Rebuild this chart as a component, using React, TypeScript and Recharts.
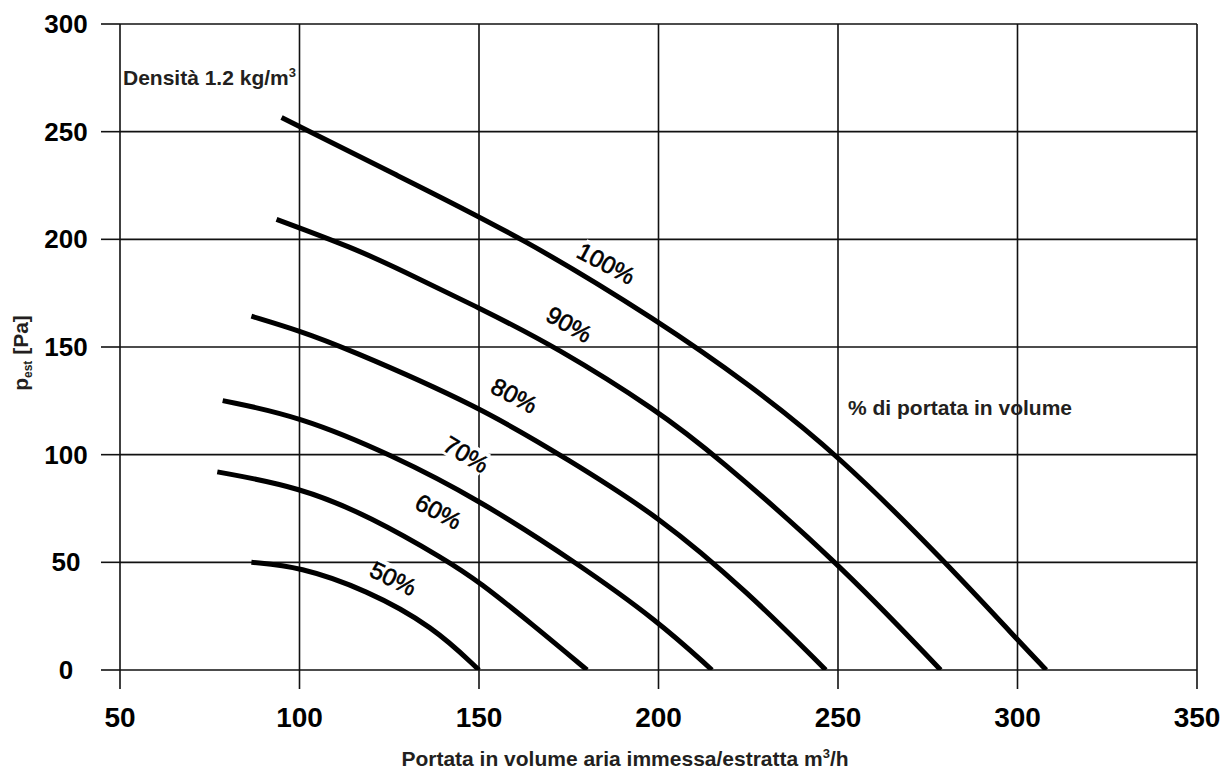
import { LineChart, Line, XAxis, YAxis, CartesianGrid, ReferenceDot } from 'recharts'

// % di portata curves: flow (m³/h) and pressure (Pa)
const flow100 = [95, 125, 163, 200, 225, 250, 280, 300, 308]
const press100 = [256.6, 231.5, 200, 162, 133, 100, 50, 14, 0]

const flow90 = [93.6, 114.9, 127.9, 150, 171.5, 200, 215.6, 250, 278.6]
const press90 = [209.3, 196.1, 186, 168.2, 150, 120.1, 100, 50, 0]

const flow80 = [86.6, 100, 112.2, 150, 175, 200, 225, 246.6]
const press80 = [164.3, 157.5, 150, 122.5, 97.5, 71.5, 36, 0]

const flow70 = [78.6, 100, 125.6, 150, 177, 200, 214.9]
const press70 = [125.1, 117.8, 100, 79, 50, 22.5, 0]

const flow60 = [77.1, 100, 120, 140.9, 150, 165, 180.1]
const press60 = [92, 85, 71, 51, 41, 21, 0]

const flow50 = [86.6, 100, 118.6, 137.2, 150]
const press50 = [50, 48, 37.2, 20.2, 0]

const curveNames = ['100%', '90%', '80%', '70%', '60%', '50%']
const curveFlows = [flow100, flow90, flow80, flow70, flow60, flow50]
const curvePress = [press100, press90, press80, press70, press60, press50]

// where each % label sits (data coords)
const labelFlow = [185.5, 175.2, 159.9, 146.5, 138.8, 126.2]
const labelPress = [189, 160.7, 127.7, 100.3, 73.8, 42.7]
const labelAngle = [28, 30, 28, 31, 28, 26]

const xTicks = [50, 100, 150, 200, 250, 300, 350]
const yTicks = [0, 50, 100, 150, 200, 250, 300]

const font = '"Liberation Sans", Arial, sans-serif'
const textGray = '#231f20'

const series = curveNames.map((name, i) => ({
  name,
  points: curveFlows[i].map((x, j) => ({ x, p: curvePress[i][j] }))
}))

const XTick = (props: any) => {
  const { x, payload } = props
  return (
    <text x={x} y={727} textAnchor="middle" fontSize={28} fontWeight="bold" fontFamily={font} fill="#000">
      {payload.value}
    </text>
  )
}

const YTick = (props: any) => {
  const { y, payload } = props
  return (
    <text x={66} y={y + 9} textAnchor="middle" fontSize={26} fontWeight="bold" fontFamily={font} fill="#000">
      {payload.value}
    </text>
  )
}

const curveLabel = (text: string, angle: number) => (props: any) => {
  const { cx, cy } = props
  const w = text.length * 13 + 4
  return (
    <g transform={`translate(${cx},${cy}) rotate(${angle})`}>
      <rect x={-w / 2} y={-12} width={w} height={24} fill="#fff" />
      <text
        x={0}
        y={9}
        textAnchor="middle"
        fontSize={24}
        fontFamily={font}
        fill="#000"
        stroke="#000"
        strokeWidth={0.6}
      >
        {text}
      </text>
    </g>
  )
}

const App = () => {
  return (
    <div style={{ width: 1227, height: 772, background: '#fff', position: 'relative' }}>
      <style>{'body{margin:0}'}</style>
      <LineChart width={1227} height={772} margin={{ top: 24, right: 30, bottom: 0, left: 0 }}>
        <CartesianGrid stroke="#111" strokeWidth={1.6} />
        <XAxis
          type="number"
          dataKey="x"
          domain={[50, 350]}
          ticks={xTicks}
          height={102}
          tickSize={19}
          tickMargin={0}
          stroke="#111"
          strokeWidth={1.6}
          axisLine={false}
          tick={<XTick />}
          allowDataOverflow
        />
        <YAxis
          type="number"
          dataKey="p"
          domain={[0, 300]}
          ticks={yTicks}
          width={120}
          tickSize={19}
          tickMargin={0}
          stroke="#111"
          strokeWidth={1.6}
          axisLine={false}
          tick={<YTick />}
          allowDataOverflow
        />
        {series.map(s => (
          <Line
            key={s.name}
            data={s.points}
            dataKey="p"
            type="basis"
            stroke="#000"
            strokeWidth={5}
            dot={false}
            isAnimationActive={false}
          />
        ))}
        {curveNames.map((name, i) => (
          <ReferenceDot
            key={name}
            x={labelFlow[i]}
            y={labelPress[i]}
            r={1}
            shape={curveLabel(name, labelAngle[i])}
          />
        ))}
        <text x={123} y={85} fontSize={21} fontWeight="bold" fontFamily={font} fill={textGray}>
          Densità 1.2 kg/m<tspan fontSize={13} dy={-8}>3</tspan>
        </text>
        <text x={848} y={415} fontSize={21} fontWeight="bold" fontFamily={font} fill={textGray}>
          % di portata in volume
        </text>
        <text x={625} y={766} textAnchor="middle" fontSize={21} fontWeight="bold" fontFamily={font} fill={textGray}>
          Portata in volume aria immessa/estratta m<tspan fontSize={13} dy={-8}>3</tspan>
          <tspan dy={8}>/h</tspan>
        </text>
        <text transform="translate(28,353) rotate(-90)" textAnchor="middle" fontSize={21} fontWeight="bold" fontFamily={font} fill={textGray}>
          p<tspan fontSize={12} dy={4}>est</tspan>
          <tspan dy={-4}> [Pa]</tspan>
        </text>
      </LineChart>
    </div>
  )
}

export default App
